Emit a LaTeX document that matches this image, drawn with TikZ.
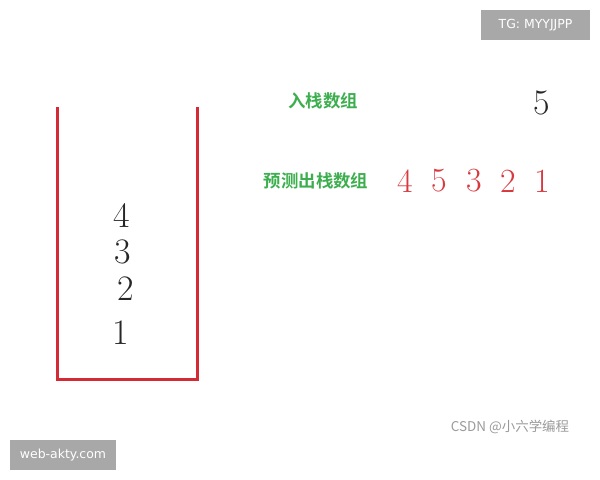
\documentclass[tikz,border=0pt]{standalone}
\usepackage{fontspec}
\newfontfamily\cjk{Noto Sans CJK SC}
\newfontfamily\cjkb{Noto Sans CJK SC Bold}
\newfontfamily\wm{DejaVu Sans}
\definecolor{stackred}{HTML}{D42A35}
\definecolor{numred}{HTML}{D8393F}
\definecolor{labgreen}{HTML}{3DAE4E}
\definecolor{wmgray}{HTML}{A8A8A8}
\definecolor{csdngray}{HTML}{9A9A9A}
\tikzset{
  wall/.style={draw=stackred, line width=3bp, line cap=rect},
  bignum/.style={font=\fontsize{36}{36}\selectfont, text=black!85, inner sep=0},
  rednum/.style={font=\fontsize{34}{34}\selectfont, text=numred, inner sep=0},
  label/.style={font=\cjkb\fontsize{17.5}{17.5}\selectfont, text=labgreen, inner sep=0},
  wmbox/.style={fill=wmgray, text=white, font=\wm\fontsize{12.5}{12.5}\selectfont, minimum height=30bp, inner sep=0}
}
\begin{document}
\begin{tikzpicture}[x=1bp,y=-1bp]
\useasboundingbox (0,0) rectangle (600,480);
% stack
\coordinate (tl) at (57,108.5);
\coordinate (bl) at (57,379);
\coordinate (br) at (197,379);
\coordinate (tr) at (197,108.5);
\draw[wall] (tl) -- (bl) -- (br) -- (tr);
% stack contents
\node[bignum] (s4) at (122,216) {4};
\node[bignum] (s3) at (123,252) {3};
\node[bignum] (s2) at (126,289) {2};
\node[bignum] (s1) at (121,333) {1};
% labels
\node[label] (in) at (323,101) {入栈数组};
\node[label] (out) at (316,181) {预测出栈数组};
\node[bignum] (n5) at (542,103) {5};
\node[rednum] (r1) at (405,181) {4};
\node[rednum] (r2) at (439,181) {5};
\node[rednum] (r3) at (474,181) {3};
\node[rednum] (r4) at (508,181) {2};
\node[rednum] (r5) at (542,181) {1};
% watermarks
\node[wmbox, minimum width=109bp] (tg) at (535.5,25.5) {TG: MYYJJPP};
\node[wmbox, minimum width=106bp] (web) at (63,455) {web-akty.com};
\node[font=\cjk\fontsize{13.5}{13.5}\selectfont, text=csdngray, inner sep=0] (csdn) at (510,427) {CSDN @小六学编程};
\end{tikzpicture}
\end{document}
